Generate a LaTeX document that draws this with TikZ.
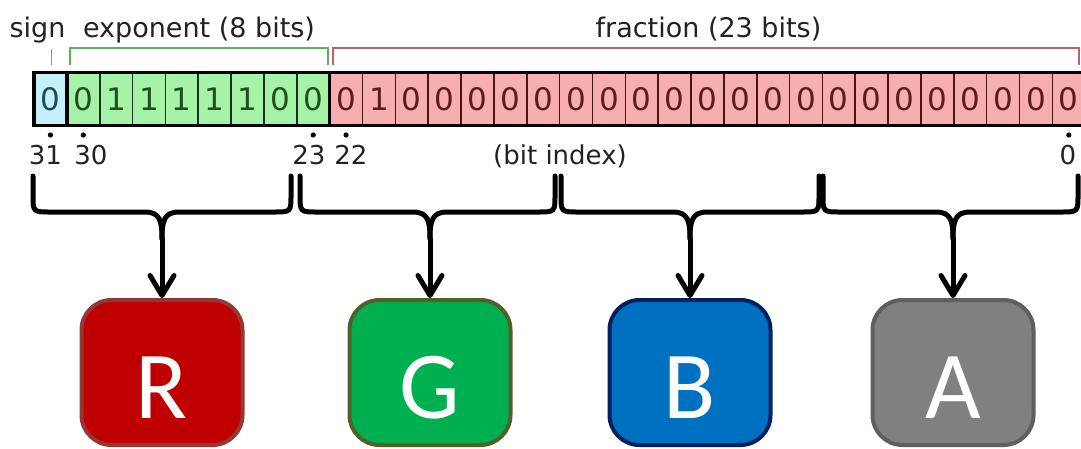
\documentclass[tikz,border=0pt]{standalone}
\usepackage{fontspec}
\setmainfont{DejaVu Sans}
\newfontfamily\boxfont{Carlito}
\usetikzlibrary{arrows.meta}
\definecolor{signfill}{HTML}{C4F0FA}
\definecolor{signtext}{HTML}{1E4A5A}
\definecolor{signline}{HTML}{5EA3A8}
\definecolor{expfill}{HTML}{A6F2A6}
\definecolor{exptext}{HTML}{1F4F1F}
\definecolor{expsep}{HTML}{1C2E1C}
\definecolor{expline}{HTML}{5DB05D}
\definecolor{fracfill}{HTML}{F7AEAE}
\definecolor{fractext}{HTML}{5A1C1C}
\definecolor{fracsep}{HTML}{4A1515}
\definecolor{fracline}{HTML}{C0606E}
\definecolor{labtext}{HTML}{222222}
\definecolor{rfill}{HTML}{C00000}
\definecolor{rdraw}{HTML}{953735}
\definecolor{gfill}{HTML}{00B050}
\definecolor{gdraw}{HTML}{4F6228}
\definecolor{bfill}{HTML}{0070C0}
\definecolor{bdraw}{HTML}{002060}
\definecolor{afill}{HTML}{808080}
\definecolor{adraw}{HTML}{5F5F5F}
\begin{document}
\begin{tikzpicture}[x=1pt,y=-1pt,
  cell/.style={minimum width=32.85pt, minimum height=53pt, inner sep=0pt, outer sep=0pt,
    line width=1.6pt, font=\fontsize{31}{31}\selectfont},
  toplab/.style={anchor=base, inner sep=0pt, text=labtext, font=\fontsize{27}{27}\selectfont},
  idxlab/.style={anchor=base, inner sep=0pt, text=labtext, font=\fontsize{26}{26}\selectfont},
  bracket/.style={line width=1.8pt},
  brace/.style={line width=5pt, line cap=round, line join=round},
  arr/.style={line width=5pt, line cap=round, -{Straight Barb[length=20pt,width=24pt,round]}},
  chan/.style={minimum width=161pt, minimum height=145pt, rounded corners=30pt, line width=4pt,
    text=white, inner sep=0pt, text height=91pt, text depth=0pt, font=\boxfont\fontsize{96}{96}\selectfont}]
\useasboundingbox (0,0) rectangle (1081,448);
\clip (0,0) rectangle (1081,448);
\fill[white] (0,0) rectangle (1081,448);

% labels above
\node[toplab] (lsign) at (37.5,37) {sign};
\node[toplab] (lexp) at (199,37) {exponent (8 bits)};
\node[toplab] (lfrac) at (708.5,37) {fraction (23 bits)};

% brackets
\draw[bracket, signline] (51.5,49) -- (51.5,65);
\draw[bracket, expline] (70,65) -- (70,48) -- (328,48) -- (328,65);
\draw[bracket, fracline] (333,65) -- (333,48) -- (1079,48) -- (1079,65);

% bit cells
\node[cell, fill=signfill, draw=signtext, text=signtext] (c0) at ({34+32.85*0.5},99) {0};
\foreach \b [count=\i] in {0,1,1,1,1,1,0,0}
  \node[cell, fill=expfill, draw=expsep, text=exptext] (c\i) at ({34+32.85*(\i+0.5)},99) {\b};
\foreach \b [count=\k from 9] in {0,1,0,0,0,0,0,0,0,0,0,0,0,0,0,0,0,0,0,0,0,0,0}
  \node[cell, fill=fracfill, draw=fracsep, text=fractext] (c\k) at ({34+32.85*(\k+0.5)},99) {\b};
\draw[line width=3.5pt, black] (c0.north east) -- (c0.south east);
\draw[line width=3.5pt, black] (c8.north east) -- (c8.south east);
\draw[line width=3.5pt, black] (c0.north west) rectangle (c31.south east);

% bit index dots and labels
\coordinate (dotrow) at (0,135);
\foreach \cc in {c0,c1,c8,c9,c31}
  \fill[black] (\cc |- dotrow) circle (2.6pt);
\node[idxlab] (i31) at (45.5,164.5) {31};
\node[idxlab] (i30) at (91,164.5) {30};
\node[idxlab] (i23) at (309,164.5) {23};
\node[idxlab] (i22) at (351,164.5) {22};
\node[idxlab] (ibi) at (560,164.5) {(bit index)};
\node[idxlab] (i0) at (1068,164.5) {0};

% braces
\foreach \xl/\xm/\xr/\nm in {33/162/291/R, 300/430/555/G, 561/690/819/B, 823/953/1078/A}{
  \draw[brace] (\xl,176) -- (\xl,195)
     .. controls (\xl,212) .. ({\xl+18},212) -- ({\xm-17},212)
     .. controls ({\xm-2},212) and (\xm,221) .. (\xm,239);
  \draw[brace] (\xr,176) -- (\xr,195)
     .. controls (\xr,212) .. ({\xr-18},212) -- ({\xm+17},212)
     .. controls ({\xm+2},212) and (\xm,221) .. (\xm,239);
  \coordinate (t\nm) at (\xm,239);
}

% channel boxes
\node[chan, fill=rfill, draw=rdraw] (R) at (162,372.5) {R};
\node[chan, fill=gfill, draw=gdraw] (G) at (430,372.5) {G};
\node[chan, fill=bfill, draw=bdraw] (B) at (690,372.5) {B};
\node[chan, fill=afill, draw=adraw] (A) at (953,372.5) {A};

% connectors
\draw[arr] (tR) -- (R.north);
\draw[arr] (tG) -- (G.north);
\draw[arr] (tB) -- (B.north);
\draw[arr] (tA) -- (A.north);
\end{tikzpicture}
\end{document}
